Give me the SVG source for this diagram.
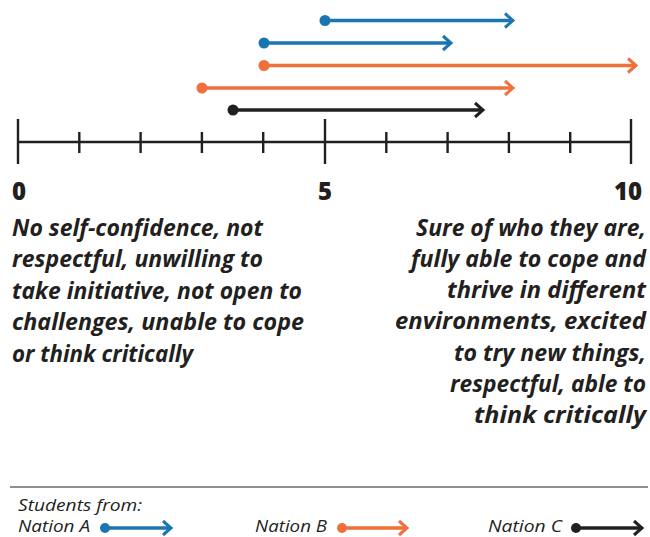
<svg xmlns="http://www.w3.org/2000/svg" width="650" height="537" viewBox="0 0 650 537">
<style>
.ax{stroke:#231f20;stroke-width:2.4;fill:none}
.num{font-family:"Open Sans","Liberation Sans",sans-serif;font-weight:800;font-size:24px;fill:#231f20}
.desc{font-family:"Open Sans","Liberation Sans",sans-serif;font-weight:700;font-style:italic;font-size:22.5px;fill:#231f20}
.leg{font-family:"Open Sans","Liberation Sans",sans-serif;font-style:italic;font-size:17px;fill:#231f20}
.a{stroke:#1b75b0}.b{stroke:#f0703c}.c{stroke:#231f20}
.ln{stroke-width:3.6;fill:none}
.da{fill:#1b75b0}.db{fill:#f0703c}.dc{fill:#231f20}
</style>
<defs>
<marker id="mA" markerUnits="userSpaceOnUse" markerWidth="16" markerHeight="20" viewBox="-12 -10 16 20" refX="-2" refY="0" orient="auto"><path d="M-8,-7 L0,0 L-8,7" fill="none" stroke="#1b75b0" stroke-width="3"/></marker>
<marker id="mB" markerUnits="userSpaceOnUse" markerWidth="16" markerHeight="20" viewBox="-12 -10 16 20" refX="-2" refY="0" orient="auto"><path d="M-8,-7 L0,0 L-8,7" fill="none" stroke="#f0703c" stroke-width="3"/></marker>
<marker id="mC" markerUnits="userSpaceOnUse" markerWidth="16" markerHeight="20" viewBox="-12 -10 16 20" refX="-2" refY="0" orient="auto"><path d="M-8,-7 L0,0 L-8,7" fill="none" stroke="#231f20" stroke-width="3"/></marker>
</defs>
<g id="axis">
<line class="ax" x1="18" y1="142" x2="631" y2="142"/>
<line class="ax" x1="18" y1="119" x2="18" y2="164"/>
<line class="ax" x1="325" y1="119" x2="325" y2="164"/>
<line class="ax" x1="631" y1="119" x2="631" y2="164"/>
<path class="ax" d="M79.3,132V153M140.6,132V153M201.9,132V153M263.2,132V153M386.3,132V153M447.6,132V153M508.9,132V153M570.2,132V153"/>
<text class="num" x="19" y="200" text-anchor="middle">0</text>
<text class="num" x="325" y="200" text-anchor="middle">5</text>
<text class="num" x="628" y="200" text-anchor="middle">10</text>
</g>
<g id="connectors">
<line class="ln a" x1="325" y1="20.5" x2="511" y2="20.5" marker-end="url(#mA)"/>
<circle class="da" cx="325" cy="20.5" r="5.5"/>
<line class="ln a" x1="264" y1="43" x2="449" y2="43" marker-end="url(#mA)"/>
<circle class="da" cx="264" cy="43" r="5.5"/>
<line class="ln b" x1="264" y1="65.5" x2="634" y2="65.5" marker-end="url(#mB)"/>
<circle class="db" cx="264" cy="65.5" r="5.5"/>
<line class="ln b" x1="202" y1="88" x2="511" y2="88" marker-end="url(#mB)"/>
<circle class="db" cx="202" cy="88" r="5.5"/>
<line class="ln c" x1="233" y1="110" x2="481" y2="110" marker-end="url(#mC)"/>
<circle class="dc" cx="233" cy="110" r="5.5"/>
</g>
<g id="low-text">
<text class="desc" x="12" y="236" textLength="251" lengthAdjust="spacingAndGlyphs">No self-confidence, not</text>
<text class="desc" x="12" y="267" textLength="251" lengthAdjust="spacingAndGlyphs">respectful, unwilling to</text>
<text class="desc" x="12" y="299" textLength="290" lengthAdjust="spacingAndGlyphs">take initiative, not open to</text>
<text class="desc" x="12" y="330" textLength="292" lengthAdjust="spacingAndGlyphs">challenges, unable to cope</text>
<text class="desc" x="12" y="362" textLength="181" lengthAdjust="spacingAndGlyphs">or think critically</text>
</g>
<g id="high-text" text-anchor="end">
<text class="desc" x="646" y="236" textLength="230" lengthAdjust="spacingAndGlyphs">Sure of who they are,</text>
<text class="desc" x="646" y="267" textLength="235" lengthAdjust="spacingAndGlyphs">fully able to cope and</text>
<text class="desc" x="646" y="298" textLength="199" lengthAdjust="spacingAndGlyphs">thrive in different</text>
<text class="desc" x="646" y="329" textLength="251" lengthAdjust="spacingAndGlyphs">environments, excited</text>
<text class="desc" x="646" y="361" textLength="192" lengthAdjust="spacingAndGlyphs">to try new things,</text>
<text class="desc" x="646" y="392" textLength="196" lengthAdjust="spacingAndGlyphs">respectful, able to</text>
<text class="desc" x="646" y="423" textLength="172" lengthAdjust="spacingAndGlyphs">think critically</text>
</g>
<g id="legend">
<line x1="10" y1="487" x2="648" y2="487" stroke="#231f20" stroke-width="1.2"/>
<text class="leg" x="18" y="511" textLength="124" lengthAdjust="spacingAndGlyphs">Students from:</text>
<text class="leg" x="18" y="532" textLength="72" lengthAdjust="spacingAndGlyphs">Nation A</text>
<line class="ln a" x1="105" y1="528" x2="169" y2="528" stroke-width="3.2" marker-end="url(#mA)"/>
<circle class="da" cx="105" cy="528" r="5"/>
<text class="leg" x="255" y="532" textLength="72" lengthAdjust="spacingAndGlyphs">Nation B</text>
<line class="ln b" x1="342" y1="528" x2="405" y2="528" stroke-width="3.2" marker-end="url(#mB)"/>
<circle class="db" cx="342" cy="528" r="5"/>
<text class="leg" x="488" y="532" textLength="74" lengthAdjust="spacingAndGlyphs">Nation C</text>
<line class="ln c" x1="576" y1="528" x2="640" y2="528" stroke-width="3.2" marker-end="url(#mC)"/>
<circle class="dc" cx="576" cy="528" r="5"/>
</g>
</svg>
